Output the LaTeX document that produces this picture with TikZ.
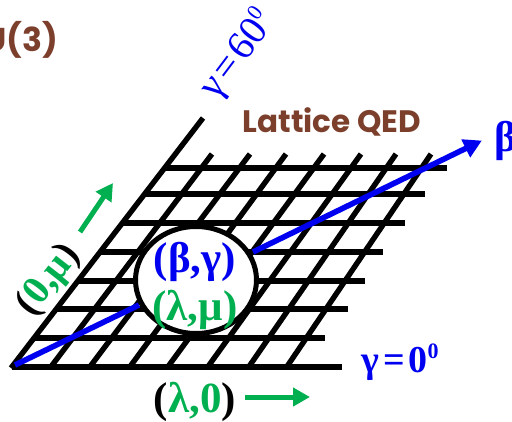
\documentclass[tikz,border=0pt]{standalone}
\usepackage{fontspec}
\setmainfont{Liberation Serif}
\newfontfamily\comicish{Poppins}
\usetikzlibrary{arrows.meta,shapes.geometric}
\definecolor{brownlab}{HTML}{7B3F2C}
\definecolor{greenlab}{HTML}{00B050}
\definecolor{bluelab}{HTML}{0000F0}
\newcommand{\degsup}{\raisebox{.36em}{\fontsize{22}{22}\selectfont 0}}
\tikzset{
  grid line/.style={line width=5.4pt,black,line cap=butt},
  blue line/.style={line width=5.6pt,bluelab},
  blue arrow/.style={blue line,-{Triangle[length=18pt,width=19pt]},shorten >=-1pt},
  green arrow/.style={line width=5pt,greenlab,-{Triangle[length=17pt,width=18pt]}},
  brown text/.style={text=brownlab,font=\comicish\bfseries,inner sep=0pt},
  pair text/.style={font=\bfseries\fontsize{43}{43}\selectfont,inner sep=0pt},
  gamma text/.style={text=bluelab,font=\fontsize{40}{40}\selectfont,inner sep=0pt},
}
\begin{document}
\begin{tikzpicture}[x=1pt,y=-1pt]
\useasboundingbox (0,0) rectangle (512,421);
\clip (0,0) rectangle (512,421);
% horizontals
\foreach \ya/\xa/\xb in {367/12/342,338/34/325,309/56/348,281/77/365,252/99/383,223/121/405,194/144/425,168/164/447}
  \draw[grid line] (\xa,\ya) -- (\xb,\ya);
% left edge
\coordinate (origin) at (11,368);
\coordinate (apex) at (203,118);
\draw[grid line] (origin) -- (apex);
% slanted lines
\foreach \xa/\xb in {50/212,89/250,129/286,167/324,207/361,248/396,286/431}
  \draw[grid line] (\xa,368) -- (\xb,154);
% blue line
\coordinate (bstart) at (15,365);
\coordinate (bin) at (139,305);
\coordinate (bout) at (253,252);
\coordinate (btip) at (481,141);
\draw[blue line] (bstart) -- (bin);
\draw[blue arrow] (bout) -- (btip);
% circle
\node[draw=black,fill=white,line width=5pt,ellipse,minimum width=121pt,minimum height=107pt,inner sep=0pt] (core) at (196,280) {};
% labels
\node[pair text,text=bluelab] (bg) at (195,262) {(β,γ)};
\node[pair text,text=greenlab] (lm) at (195,310) {(λ,μ)};
\node[pair text] (l0) at (195,402) {(\textcolor{greenlab}{λ,0})};
\node[pair text,rotate=52,font=\bfseries\fontsize{40}{40}\selectfont] (om) at (49,280) {(\textcolor{greenlab}{0,μ})};
\node[gamma text,font=\bfseries\fontsize{38}{38}\selectfont] (g0) at (400,362) {γ\kern4pt=\kern4pt 0\degsup};
\node[gamma text,rotate=53] (g60) at (238,55) {γ\kern4pt=\kern4pt 60\degsup};
\node[brown text,font=\comicish\bfseries\fontsize{31}{31}\selectfont] (qed) at (332,122) {Lattice QED};
\node[brown text,font=\comicish\bfseries\fontsize{33}{33}\selectfont,anchor=east] (u3) at (58,40) {U(3)};
\node[text=bluelab,font=\bfseries\fontsize{43}{43}\selectfont,inner sep=0pt,anchor=west] (beta) at (494,141) {β};
% green arrows
\coordinate (g1s) at (80,232);
\coordinate (g1t) at (113,183);
\coordinate (g2s) at (245,397);
\coordinate (g2t) at (310,397);
\draw[green arrow] (g1s) -- (g1t);
\draw[green arrow] (g2s) -- (g2t);
\end{tikzpicture}
\end{document}
